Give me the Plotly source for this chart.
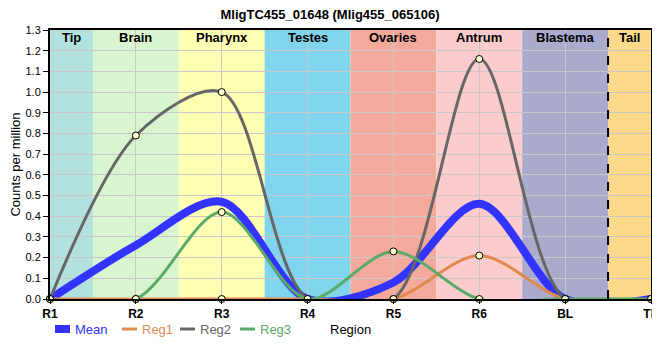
import plotly.graph_objects as go

regions = ["R1", "R2", "R3", "R4", "R5", "R6", "BL", "TP"]
mean_vals = [0.0, 0.26, 0.47, 0.0, 0.08, 0.46, 0.0, 0.0]
reg1_vals = [0.0, 0.0, 0.0, 0.0, 0.0, 0.21, 0.0, 0.0]
reg2_vals = [0.0, 0.79, 1.0, 0.0, 0.0, 1.16, 0.0, 0.0]
reg3_vals = [0.0, 0.0, 0.42, 0.0, 0.23, 0.0, 0.0, 0.0]

band_names = ["Tip", "Brain", "Pharynx", "Testes", "Ovaries", "Antrum", "Blastema", "Tail"]
band_starts = [0.0, 0.5, 1.5, 2.5, 3.5, 4.5, 5.5, 6.5]
band_ends = [0.5, 1.5, 2.5, 3.5, 4.5, 5.5, 6.5, 7.0]
band_colors = ["#b3e2de", "#d9f5cf", "#ffffb3", "#80d4eb", "#f4aa9a", "#fccccc", "#aaaacc", "#fdd98b"]

series_names = ["Mean", "Reg1", "Reg2", "Reg3"]
series_colors = ["#3333ff", "#e08a4f", "#666666", "#5aaa6a"]

xpos = list(range(len(regions)))
FONT = "Liberation Sans, Arial"

# page body has an 8px default margin: size the figure to fit the 660x360 window
W, H = 652, 352
ML, MR, MT, MB = 42, 9, 22, 61
PW, PH = W - ML - MR, H - MT - MB

fig = go.Figure()

fig.add_trace(go.Scatter(x=xpos, y=mean_vals, name="Mean", mode="lines",
                         line=dict(color=series_colors[0], width=8, shape="spline", smoothing=0.9)))
for name, vals, col in zip(series_names[1:], [reg1_vals, reg2_vals, reg3_vals], series_colors[1:]):
    fig.add_trace(go.Scatter(x=xpos, y=vals, name=name, mode="lines+markers",
                             line=dict(color=col, width=3, shape="spline", smoothing=0.9),
                             marker=dict(size=7, color="#ffffcc", line=dict(color="black", width=1)),
                             cliponaxis=False))

for name, s, e, c in zip(band_names, band_starts, band_ends, band_colors):
    fig.add_shape(type="rect", xref="x", yref="paper", x0=s, x1=e, y0=0, y1=1,
                  fillcolor=c, line_width=0, layer="below")
    fig.add_annotation(x=(s + e) / 2, y=1.0, xref="x", yref="paper", yanchor="top",
                       yshift=2, text="<b>" + name + "</b>", showarrow=False,
                       font=dict(size=13, color="black", family=FONT))

fig.add_shape(type="line", xref="x", yref="paper", x0=6.5, x1=6.5, y0=0, y1=1,
              line=dict(color="black", width=2, dash="dash"), layer="above")

# custom legend (symbols + coloured labels) below the plot
leg_x = [5, 72, 130, 190]          # pixel offsets from plot left
leg_widths = [8, 3, 3, 3]
LY = -30 / PH
for off, name, col, w in zip(leg_x, series_names, series_colors, leg_widths):
    fig.add_shape(type="line", xref="paper", yref="paper",
                  x0=off / PW, x1=(off + 15) / PW, y0=LY, y1=LY,
                  line=dict(color=col, width=w))
    fig.add_annotation(x=(off + 18) / PW, y=LY, xref="paper", yref="paper",
                       xanchor="left", yanchor="middle", text=name, showarrow=False,
                       font=dict(size=13, color=col, family="Liberation Sans Narrow, Liberation Sans, Arial"))

fig.add_annotation(x=0.5, y=LY, xref="paper", yref="paper", xanchor="center",
                   yanchor="middle", text="Region", showarrow=False,
                   font=dict(size=13, color="black", family=FONT))

fig.update_layout(
    width=W, height=H,
    margin=dict(l=ML, r=MR, t=MT, b=MB),
    paper_bgcolor="white", plot_bgcolor="white",
    font=dict(family=FONT, color="black", size=12),
    title=dict(text="<b>MligTC455_01648 (Mlig455_065106)</b>", x=(330 - 8) / W, xanchor="center",
               xref="container", y=0.995, yref="container", yanchor="top", font=dict(size=13)),
    showlegend=False,
)
fig.update_xaxes(range=[0, 7], tickvals=xpos, ticktext=["<b>" + r + "</b>" for r in regions],
                 tickfont=dict(size=12), ticks="outside", ticklen=3, tickcolor="black",
                 showgrid=True, gridcolor="#c8c8c8", gridwidth=1, automargin=False,
                 showline=True, linecolor="black", linewidth=2, mirror=True, zeroline=False)
fig.update_yaxes(range=[0, 1.3], dtick=0.1, tickformat=".1f", tickfont=dict(size=11),
                 ticks="outside", ticklen=5, tickcolor="black", automargin=False,
                 showgrid=True, gridcolor="#c8c8c8", gridwidth=1,
                 showline=True, linecolor="black", linewidth=2, mirror=True, zeroline=False,
                 title=dict(text="Counts per million", font=dict(size=13), standoff=2))

fig.write_html("out.html")
